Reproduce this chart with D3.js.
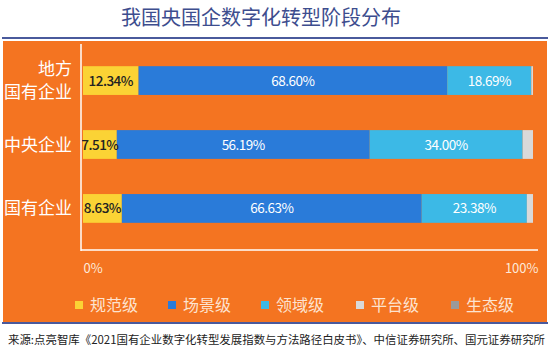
<!DOCTYPE html>
<html>
<head>
<meta charset="utf-8">
<script src="https://cdn.jsdelivr.net/npm/d3@7"></script>
<style>
  body { margin: 0; background: #fff; }
  text { font-family: "Noto Sans CJK SC", "Noto Sans", sans-serif; }
</style>
</head>
<body>
<script>
// data
var categories = [["地方", "国有企业"], ["中央企业"], ["国有企业"]];
var seriesNames = ["规范级", "场景级", "领域级", "平台级", "生态级"];
var guifan = [12.34, 7.51, 8.63];
var changjing = [68.60, 56.19, 66.63];
var lingyu = [18.69, 34.00, 23.38];
var pingtai = [0.37, 2.30, 1.36];
var shengtai = [0, 0, 0];
var tickLabels = ["0%", "100%"];
var colors = ["#fbd335", "#2a7bd9", "#3cb9e6", "#d9d9d9", "#9a9a9a"];
var textColors = ["#222", "#fff", "#fff", "#fff", "#fff"];

var W = 550, H = 353;
var svg = d3.select("body").append("svg").attr("width", W).attr("height", H);

// title + rules
svg.append("text")
  .attr("x", 261).attr("y", 25)
  .attr("text-anchor", "middle")
  .style("font-size", "20px")
  .style("fill", "#3d4d8e")
  .text("我国央国企数字化转型阶段分布");

svg.append("rect").attr("x", 2).attr("y", 37).attr("width", 546).attr("height", 2).attr("fill", "#4a5a9c");

// orange panel
svg.append("rect").attr("x", 3).attr("y", 41).attr("width", 544).attr("height", 281).attr("fill", "#f47421");
svg.append("rect").attr("x", 2).attr("y", 322).attr("width", 546).attr("height", 2).attr("fill", "#4a5a9c");

var rows = categories.map((c, i) => {
  return { key: i, "规范级": guifan[i], "场景级": changjing[i], "领域级": lingyu[i], "平台级": pingtai[i], "生态级": shengtai[i] };
});

var x = d3.scaleLinear().domain([0, 100]).range([83, 533]);
var y = d3.scaleBand().domain(d3.range(categories.length)).range([47, 242]).paddingInner(0.55).paddingOuter(0.3);

var stack = d3.stack().keys(seriesNames)(rows);

var layer = svg.append("g").selectAll("g")
  .data(stack)
  .enter().append("g")
  .attr("fill", (d, i) => colors[i]);

layer.selectAll("rect")
  .data(d => d)
  .enter().append("rect")
  .attr("x", d => x(d[0]))
  .attr("y", (d, i) => y(i))
  .attr("width", d => x(d[1]) - x(d[0]))
  .attr("height", y.bandwidth());

// value labels (only the first three series carry numbers)
stack.slice(0, 3).forEach((s, si) => {
  svg.append("g").selectAll("text")
    .data(s)
    .enter().append("text")
    .attr("x", d => (x(d[0]) + x(d[1])) / 2)
    .attr("y", (d, i) => y(i) + y.bandwidth() / 2 + 5)
    .attr("text-anchor", "middle")
    .style("font-size", "13.5px")
    .style("letter-spacing", "-0.5px")
    .style("font-weight", si == 0 ? "500" : "400")
    .style("fill", textColors[si])
    .text(d => (d[1] - d[0]).toFixed(2) + "%");
});

// category labels
categories.forEach((c, i) => {
  var cy = y(i) + y.bandwidth() / 2;
  c.forEach((line, j) => {
    svg.append("text")
      .attr("x", 72)
      .attr("y", cy + 6 + (j - (c.length - 1) / 2) * 23)
      .attr("text-anchor", "end")
      .style("font-size", "17px")
      .style("fill", "#fff")
      .text(line);
  });
});

// axes
svg.append("line").attr("x1", 81).attr("x2", 81).attr("y1", 44).attr("y2", 251)
  .attr("stroke", "#fff").attr("stroke-width", 1.5);

var xAxis = d3.axisBottom(x)
  .tickValues([0, 100])
  .tickSize(0)
  .tickPadding(14)
  .tickFormat((d, i) => tickLabels[i]);

var gx = svg.append("g")
  .attr("transform", "translate(0,250)")
  .call(xAxis);
gx.select(".domain").remove();
gx.append("line").attr("x1", 81).attr("x2", 538).attr("stroke", "#fff").attr("stroke-width", 1.5);
gx.selectAll(".tick text")
  .style("font-size", "13px")
  .style("fill", "#fde9d9")
  .attr("text-anchor", (d, i) => i == 0 ? "start" : "end")
  .attr("dx", (d, i) => i == 0 ? 0 : 5)
  .style("font-family", "'Noto Sans CJK SC', sans-serif");

// legend
var legendX = [75, 168, 261, 356, 451];
var lg = svg.append("g").selectAll("g")
  .data(seriesNames)
  .enter().append("g")
  .attr("transform", (d, i) => "translate(" + legendX[i] + ",305)");
lg.append("rect").attr("x", 0).attr("y", -4).attr("width", 8).attr("height", 8)
  .attr("fill", (d, i) => colors[i]);
lg.append("text").attr("x", 15).attr("y", 6)
  .style("font-size", "16px").style("fill", "#fde3d0")
  .text(d => d);

// source
svg.append("text")
  .attr("x", 8).attr("y", 344)
  .attr("textLength", 537)
  .attr("lengthAdjust", "spacingAndGlyphs")
  .style("font-size", "11.5px")
  .style("fill", "#222")
  .text("来源:点亮智库《2021国有企业数字化转型发展指数与方法路径白皮书》、中信证券研究所、国元证券研究所");
</script>
</body>
</html>
